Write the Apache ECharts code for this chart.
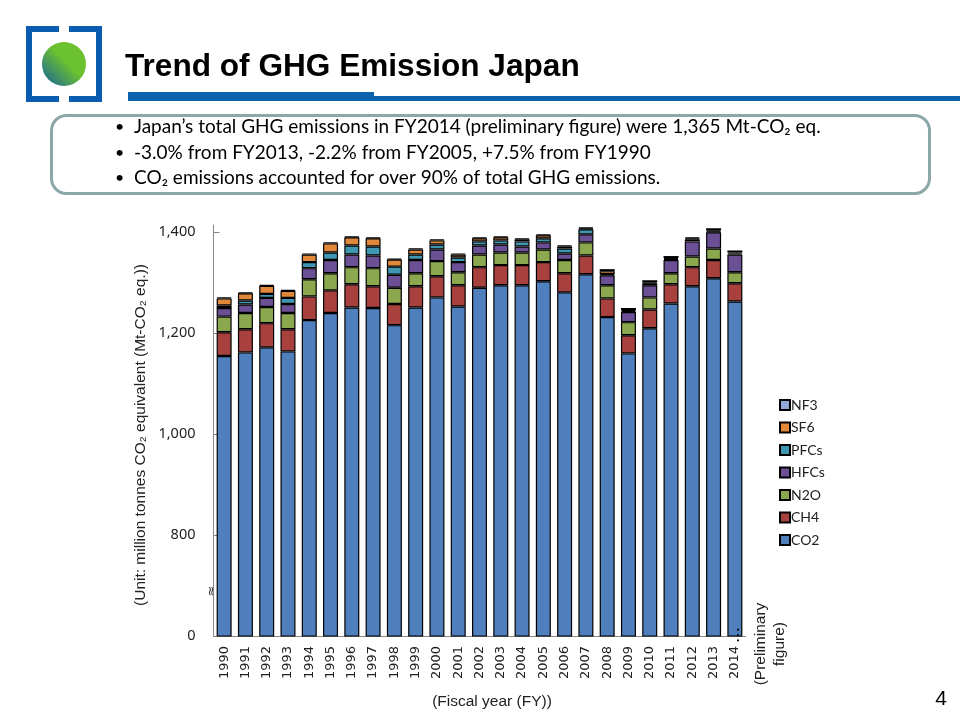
<!DOCTYPE html>
<html>
<head>
<meta charset="utf-8">
<title>Trend of GHG Emission Japan</title>
<script src="https://cdn.jsdelivr.net/npm/echarts@6/dist/echarts.min.js"></script>
<style>
  html, body { margin: 0; padding: 0; background: #fff; }
  #chart { width: 960px; height: 720px; }
</style>
</head>
<body>
<div id="chart"></div>
<script>
const years = ['1990','1991','1992','1993','1994','1995','1996','1997','1998','1999','2000','2001','2002','2003','2004','2005','2006','2007','2008','2009','2010','2011','2012','2013','2014']

// values, Mt-CO2 eq.
const co2 = [1155,1162,1172,1164,1226,1240,1251,1250,1216,1251,1271,1253,1290,1295,1295,1303,1281,1317,1232,1160,1210,1259,1293,1309,1263]
const ch4 = [47,46,48,44,47,45,46,43,42,42,42,42,41,40,40,38,38,37,37,36,37,38,38,36,36]
const n2o = [31,32,32,32,34,34,34,36,32,26,30,26,25,25,25,25,26,26,26,26,24,22,21,23,22]
const hfcs = [17,17,18,18,22,26,25,25,26,26,23,20,18,16,12,14,13,16,20,20,24,26,30,32,35]
const pfcs = [5,8,8,12,12,15,18,18,16,11,10,9,8,8,10,8,10,10,2,2,4,2,4,2,2]
const sf6 = [14,14,16,14,15,18,16,16,14,10,8,6,6,6,4,6,4,2,6,2,2,2,2,2,2]
const nf3 = [2,2,2,2,2,2,2,2,2,2,2,2,2,2,2,2,2,2,4,4,4,4,2,4,4]

// the axis is broken: the bottom tick sits at 600 but is labelled 0
const yTicks = [600, 800, 1000, 1200, 1400]
const yTickLabels = ['0', '800', '1,000', '1,200', '1,400']

const gases = [
  { name: 'CO2', data: co2, color: '#4F7FBC' },
  { name: 'CH4', data: ch4, color: '#A8413E' },
  { name: 'N2O', data: n2o, color: '#8CA84F' },
  { name: 'HFCs', data: hfcs, color: '#6B5096' },
  { name: 'PFCs', data: pfcs, color: '#3F97B1' },
  { name: 'SF6', data: sf6, color: '#E0893B' },
  { name: 'NF3', data: nf3, color: '#92A9D5' },
]

const bullets = [
  'Japan\u2019s total GHG emissions in FY2014 (preliminary figure) were 1,365 Mt-CO\u2082 eq.',
  '-3.0% from FY2013, -2.2% from FY2005, +7.5% from FY1990',
  'CO\u2082 emissions accounted for over 90% of total GHG emissions.',
]

const myChart = echarts.init(document.getElementById('chart'))

const blue = '#0B63AE'
const bodyFont = 'Lato, "Noto Sans", sans-serif'
const armFont = '15.5px "Liberation Sans", Arial, sans-serif'

const header = [
  // logo
  { type: 'polyline', shape: { points: [[59, 29], [29, 29], [29, 99], [59, 99]] }, style: { stroke: '#0A5CB0', lineWidth: 6, fill: null, lineJoin: 'miter' } },
  { type: 'polyline', shape: { points: [[69, 29], [99, 29], [99, 99], [69, 99]] }, style: { stroke: '#0A5CB0', lineWidth: 6, fill: null, lineJoin: 'miter' } },
  {
    type: 'circle',
    shape: { cx: 64, cy: 64, r: 22 },
    style: {
      fill: new echarts.graphic.LinearGradient(0, 1, 1, 0, [
        { offset: 0, color: '#125E9E' },
        { offset: 0.55, color: '#6CC12F' },
        { offset: 1, color: '#6CC12F' },
      ]),
    },
  },
  // title and rule
  { type: 'text', x: 125, y: 67, style: { text: 'Trend of GHG Emission Japan', font: 'bold 31.6px "Liberation Sans", Arial, sans-serif', fill: '#000', verticalAlign: 'middle' } },
  { type: 'rect', shape: { x: 128, y: 92, width: 246, height: 9 }, style: { fill: blue } },
  { type: 'rect', shape: { x: 374, y: 96, width: 586, height: 5 }, style: { fill: blue } },
  // summary box
  { type: 'rect', shape: { x: 51.5, y: 115.5, width: 878, height: 78, r: 15 }, style: { fill: '#fff', stroke: '#8CA6A9', lineWidth: 3 } },
]

const bulletTexts = []
bullets.forEach((line, i) => {
  const y = 127 + i * 25.5
  bulletTexts.push({ type: 'text', x: 115, y: y, style: { text: '\u2022', font: '16px ' + bodyFont, fill: '#000', verticalAlign: 'middle' } })
  bulletTexts.push({ type: 'text', x: 134, y: y, style: { text: line, font: '19px ' + bodyFont, fill: '#000', verticalAlign: 'middle' } })
})

const notes = [
  { type: 'text', x: 141, y: 435, rotation: Math.PI / 2, z: 10, style: { text: '(Unit: million tonnes CO\u2082 equivalent (Mt-CO\u2082 eq.))', font: armFont, fill: '#222', align: 'center', verticalAlign: 'middle' } },
  { type: 'text', x: 492, y: 702, z: 10, style: { text: '(Fiscal year (FY))', font: armFont, fill: '#222', align: 'center', verticalAlign: 'middle' } },
  { type: 'text', x: 770, y: 644, rotation: Math.PI / 2, z: 10, style: { text: '(Preliminary\nfigure)', font: armFont, fill: '#222', align: 'center', verticalAlign: 'middle', lineHeight: 19 } },
  { type: 'text', x: 735, y: 635, rotation: Math.PI / 2, z: 10, style: { text: '\u2026', font: '16px "DejaVu Sans", sans-serif', fill: '#000', align: 'center', verticalAlign: 'middle' } },
  { type: 'text', x: 212, y: 591, rotation: Math.PI / 2, z: 10, style: { text: '\u2248', font: '13px "DejaVu Sans", sans-serif', fill: '#333', align: 'center', verticalAlign: 'middle' } },
  { type: 'text', x: 941, y: 699, z: 10, style: { text: '4', font: '21px "Liberation Sans", Arial, sans-serif', fill: '#000', align: 'center', verticalAlign: 'middle' } },
]

const option = {
  animation: false,
  backgroundColor: '#fff',
  grid: { left: 213.5, top: 225, width: 532, height: 411, containLabel: false },
  legend: {
    orient: 'vertical',
    left: 779,
    top: 398,
    padding: 0,
    icon: 'rect',
    itemWidth: 10,
    itemHeight: 10,
    itemGap: 8.5,
    data: gases.map((g) => g.name).reverse(),
    textStyle: { fontFamily: bodyFont, fontSize: 14, color: '#222', padding: [0, 0, 0, -4] },
  },
  xAxis: {
    type: 'category',
    data: years,
    axisLine: { lineStyle: { color: '#868686', width: 1 } },
    axisTick: { inside: true, length: 5, lineStyle: { color: '#868686' } },
    axisLabel: { rotate: 90, interval: 0, margin: 10, fontFamily: '"DejaVu Sans", sans-serif', fontSize: 13, color: '#222' },
  },
  yAxis: {
    type: 'value',
    min: 600,
    max: 1414.5,
    splitLine: { show: false },
    axisLine: { show: true, lineStyle: { color: '#868686', width: 1 } },
    axisTick: { show: true, inside: true, length: 6, customValues: yTicks, lineStyle: { color: '#868686' } },
    axisLabel: {
      customValues: yTicks,
      margin: 18,
      fontFamily: '"Noto Sans", sans-serif',
      fontSize: 14.5,
      color: '#222',
      formatter: (v) => yTickLabels[yTicks.indexOf(v)],
    },
  },
  series: gases.map((g) => ({
    name: g.name,
    type: 'bar',
    stack: 'total',
    barWidth: 15,
    data: g.data,
    itemStyle: { color: g.color, borderColor: '#000', borderWidth: 1.2 },
  })),
  graphic: header.concat(bulletTexts, notes),
}

myChart.setOption(option)
</script>
</body>
</html>
